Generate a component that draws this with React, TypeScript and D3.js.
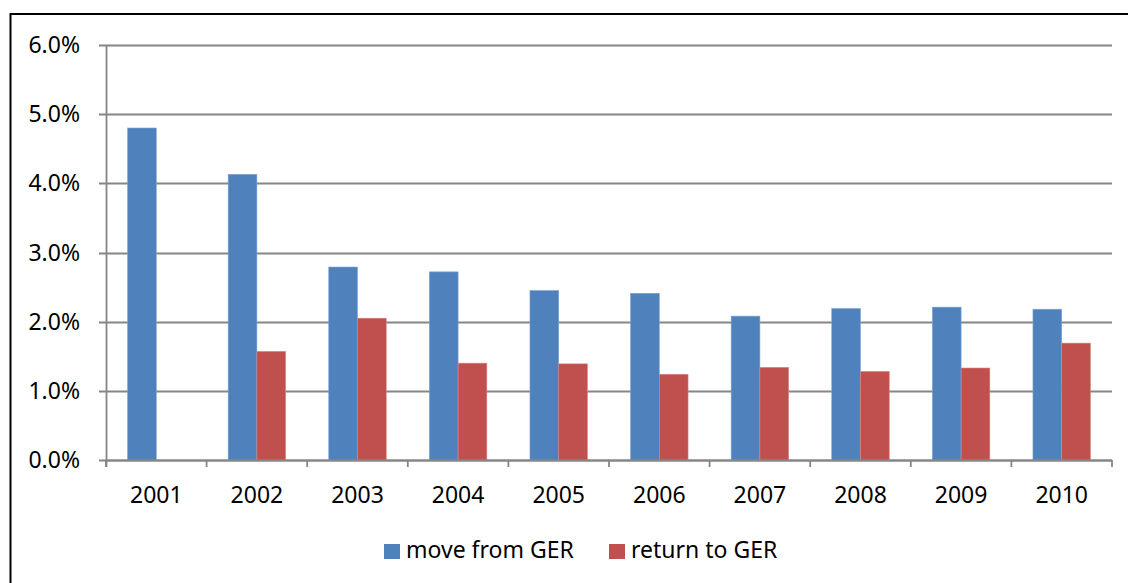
import { useMemo } from "react";
import * as d3 from "d3";

const years = ["2001", "2002", "2003", "2004", "2005", "2006", "2007", "2008", "2009", "2010"];
const moveFromGer = [0.048, 0.0413, 0.0279, 0.0272, 0.0245, 0.0241, 0.0208, 0.0219, 0.0221, 0.0218];
const returnToGer = [null, 0.0157, 0.0205, 0.014, 0.0139, 0.0124, 0.0134, 0.0128, 0.0133, 0.0169];
const seriesNames = ["move from GER", "return to GER"];
const seriesColors = ["#4F81BD", "#C0504D"];
const yTicks = [0, 0.01, 0.02, 0.03, 0.04, 0.05, 0.06];

const W = 1128;
const H = 583;
const margin = { top: 45, right: 16, bottom: 123, left: 106 };
const font = "'Noto Sans', sans-serif";
const fs = 23;

export default function App() {
  const x = useMemo(
    () => d3.scaleBand().domain(years).range([margin.left, W - margin.right]).padding(0),
    []
  );
  const y = useMemo(
    () => d3.scaleLinear().domain([0, 0.06]).range([H - margin.bottom, margin.top]),
    []
  );
  const fmt = d3.format(".1%");

  // Excel style: gap width 150% -> each category is 3.5 bar widths
  const barW = x.bandwidth() / 3.5;
  const series = [moveFromGer, returnToGer];
  const x0 = margin.left;
  const x1 = W - margin.right;
  const y0 = y(0);
  const axisColor = "#868686";

  return (
    <svg
      width={W}
      height={H}
      style={{ position: "absolute", left: 0, top: 0, display: "block", background: "#fff" }}
    >
      {/* outer frame */}
      <path d={`M10.5,${H} V14 H${W}`} fill="none" stroke="#000" strokeWidth={2} />

      {/* gridlines */}
      {yTicks.map((t) => (
        <line
          key={"g" + t}
          x1={x0 - 7}
          x2={x1}
          y1={Math.round(y(t)) + 0.5}
          y2={Math.round(y(t)) + 0.5}
          stroke={axisColor}
          strokeWidth={1.8}
        />
      ))}

      {/* bars */}
      {series.map((vals, si) =>
        vals.map((v, i) =>
          v == null ? null : (
            <rect
              key={si + "-" + i}
              x={(x(years[i]) as number) + barW * 0.75 + si * barW}
              y={y(v)}
              width={barW}
              height={y0 - y(v)}
              fill={seriesColors[si]}
              stroke={si === 0 ? "#7fa3d3" : "#d88785"}
              strokeWidth={0.6}
            />
          )
        )
      )}

      {/* y axis */}
      <line x1={x0 + 0.5} x2={x0 + 0.5} y1={margin.top} y2={y0 + 7} stroke={axisColor} strokeWidth={1.8} />
      {/* x axis */}
      <line x1={x0} x2={x1} y1={Math.round(y0) + 0.5} y2={Math.round(y0) + 0.5} stroke={axisColor} strokeWidth={1.8} />
      {[...years.map((d) => x(d) as number), x1].map((px, i) => (
        <line key={"xt" + i} x1={px} x2={px} y1={y0} y2={y0 + 7} stroke={axisColor} strokeWidth={1.8} />
      ))}

      {/* y tick labels */}
      {yTicks.map((t) => (
        <text
          key={"yl" + t}
          x={80}
          y={y(t)}
          dy="0.35em"
          textAnchor="end"
          fontFamily={font}
          fontSize={fs}
          fill="#000"
        >
          {fmt(t)}
        </text>
      ))}

      {/* x tick labels */}
      {years.map((d) => (
        <text
          key={"xl" + d}
          x={(x(d) as number) + x.bandwidth() / 2}
          y={503}
          textAnchor="middle"
          fontFamily={font}
          fontSize={fs}
          fill="#000"
        >
          {d}
        </text>
      ))}

      {/* legend */}
      {seriesNames.map((name, i) => {
        const lx = i === 0 ? 384 : 609;
        return (
          <g key={name}>
            <rect x={lx} y={544} width={16} height={15} fill={seriesColors[i]} />
            <text x={lx + 22} y={558} fontFamily={font} fontSize={fs} fill="#000">
              {name}
            </text>
          </g>
        );
      })}
    </svg>
  );
}
